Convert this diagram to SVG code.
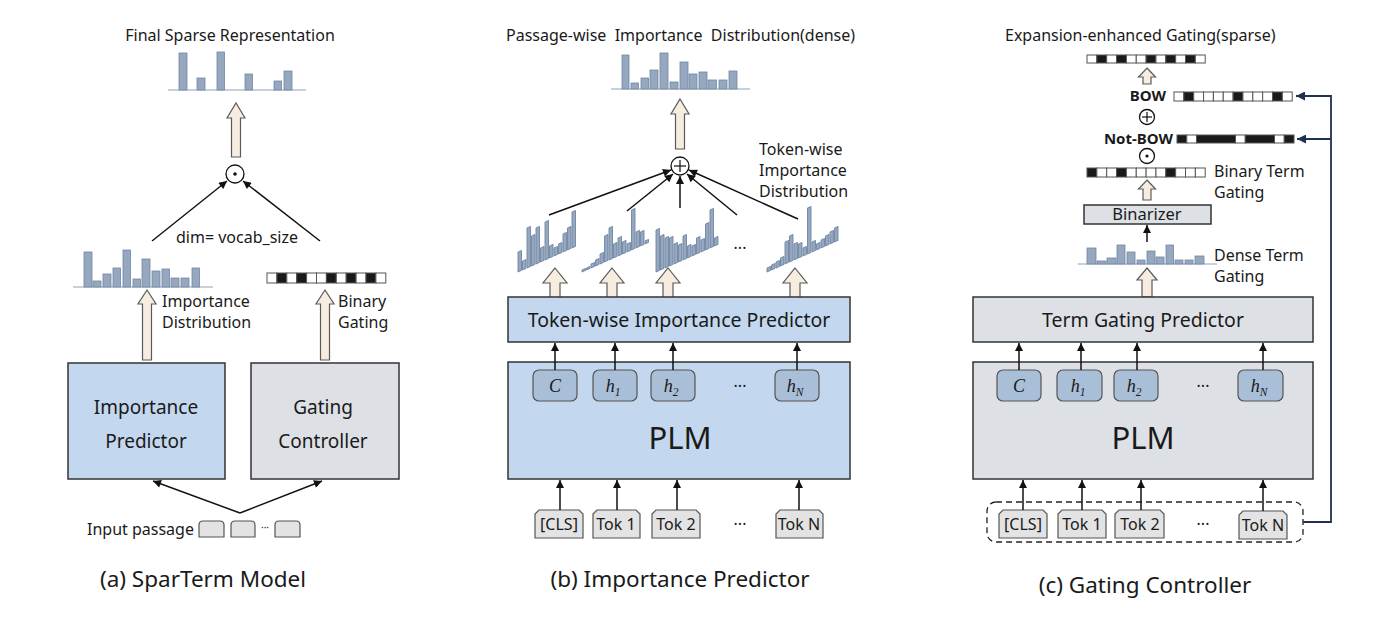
<svg xmlns="http://www.w3.org/2000/svg" width="1400" height="623" viewBox="0 0 1400 623">
<defs>
<style>
text{font-family:"Noto Sans","Open Sans","DejaVu Sans",sans-serif;fill:#1a1a1a}
.t15{font-size:16px}
.t18{font-size:19.5px}
.t19{font-size:19px}
.cap{font-size:22.5px}
.plm{font-size:31px}
.b14{font-size:15px;font-weight:bold}
.m{font-family:"Liberation Serif","DejaVu Serif",serif;font-style:italic;font-size:18px}
.sub{font-size:11.5px}
.mid{text-anchor:middle}
.end{text-anchor:end}
.bar{fill:#95a8c0;stroke:#7085a2;stroke-width:0.8}
.base{stroke:#8ea4bf;stroke-width:1.2}
.ha{fill:#f6ece0;stroke:#5a5a5a;stroke-width:1.2}
.blue{fill:#c3d7ee;stroke:#333;stroke-width:1.5}
.grey{fill:#dde1e6;stroke:#333;stroke-width:1.5}
.inner{fill:#a9bed7;stroke:#555;stroke-width:1.2}
.tok{fill:#e3e3e3;stroke:#555;stroke-width:1.2}
.cw{fill:#fff;stroke:#555;stroke-width:1}
.cb{fill:#1a1a1a;stroke:#555;stroke-width:1}
.ln{stroke:#111;stroke-width:1.5;fill:none}
.nav{stroke:#1f3050;stroke-width:1.8;fill:none}
.circ{fill:#fff;stroke:#111;stroke-width:1.3}
</style>
<marker id="ah" viewBox="0 0 10 10" refX="10" refY="5" markerWidth="10" markerHeight="8" markerUnits="userSpaceOnUse" orient="auto">
<path d="M0,0 L10,5 L0,10 z" fill="#111"/>
</marker>
<marker id="ahn" viewBox="0 0 10 10" refX="10" refY="5" markerWidth="12" markerHeight="9" markerUnits="userSpaceOnUse" orient="auto">
<path d="M0,0 L10,5 L0,10 z" fill="#1f3050"/>
</marker>
</defs>
<rect width="1400" height="623" fill="#fff"/>

<!-- ================= Panel (a) ================= -->
<g id="a-final">
<text class="t15 mid" x="230" y="41">Final Sparse Representation</text>
<line class="base" x1="168" y1="90" x2="306" y2="90"/>
<rect class="bar" x="179" y="53" width="8" height="37"/>
<rect class="bar" x="197" y="78" width="8" height="12"/>
<rect class="bar" x="217" y="52" width="7.5" height="38"/>
<rect class="bar" x="245" y="74" width="7.5" height="16"/>
<rect class="bar" x="274" y="81" width="7.5" height="9"/>
<rect class="bar" x="284" y="71" width="8" height="19"/>
<path class="ha" d="M236,103 L245,118 L240.5,118 L240.5,157 L231.5,157 L231.5,118 L227,118 Z"/>
</g>
<g id="a-odot">
<circle class="circ" cx="235" cy="174" r="9"/>
<circle cx="235" cy="174" r="1.8" fill="#111"/>
<text class="t15 mid" x="237" y="243">dim= vocab_size</text>
</g>
<g id="a-importance-dist">
<line class="base" x1="73" y1="287" x2="213" y2="287"/>
<rect class="bar" x="84" y="252" width="8" height="35"/>
<rect class="bar" x="93" y="281" width="8" height="6"/>
<rect class="bar" x="103" y="274" width="8" height="13"/>
<rect class="bar" x="113" y="268" width="7.5" height="19"/>
<rect class="bar" x="123" y="250" width="7.5" height="37"/>
<rect class="bar" x="133" y="279" width="7.5" height="8"/>
<rect class="bar" x="142" y="259" width="8" height="28"/>
<rect class="bar" x="152" y="271" width="8" height="16"/>
<rect class="bar" x="162" y="269" width="7.5" height="18"/>
<rect class="bar" x="171" y="278" width="8" height="9"/>
<rect class="bar" x="181" y="278" width="8" height="9"/>
<rect class="bar" x="192" y="268" width="7.5" height="19"/>
<path class="ha" d="M147,290 L156,304 L151.5,304 L151.5,360 L142.5,360 L142.5,304 L138,304 Z"/>
<text class="t15" x="162" y="307">Importance</text>
<text class="t15" x="162" y="328">Distribution</text>
</g>
<g id="a-binary-gating">
<rect class="cw" x="267" y="273" width="9.9" height="10"/>
<rect class="cb" x="276.9" y="273" width="9.9" height="10"/>
<rect class="cw" x="286.8" y="273" width="9.9" height="10"/>
<rect class="cb" x="296.7" y="273" width="9.9" height="10"/>
<rect class="cw" x="306.6" y="273" width="9.9" height="10"/>
<rect class="cw" x="316.5" y="273" width="9.9" height="10"/>
<rect class="cb" x="326.4" y="273" width="9.9" height="10"/>
<rect class="cw" x="336.3" y="273" width="9.9" height="10"/>
<rect class="cb" x="346.2" y="273" width="9.9" height="10"/>
<rect class="cw" x="356.1" y="273" width="9.9" height="10"/>
<rect class="cb" x="366" y="273" width="9.9" height="10"/>
<rect class="cw" x="375.9" y="273" width="9.9" height="10"/>
<path class="ha" d="M325,290 L334,304 L329.5,304 L329.5,360 L320.5,360 L320.5,304 L316,304 Z"/>
<text class="t15" x="338" y="307">Binary</text>
<text class="t15" x="338" y="328">Gating</text>
</g>
<g id="a-importance-predictor">
<rect class="blue" x="68" y="363" width="157" height="116"/>
<text class="t19 mid" x="146" y="414">Importance</text>
<text class="t19 mid" x="146" y="448">Predictor</text>
</g>
<g id="a-gating-controller">
<rect class="grey" x="251" y="363" width="148" height="116"/>
<text class="t19 mid" x="323" y="414">Gating</text>
<text class="t19 mid" x="323" y="448">Controller</text>
</g>
<g id="a-input">
<text class="t15" x="87" y="535">Input passage</text>
<path class="tok" d="M199,537 L199,525 Q199,521 203,521 L220,521 Q224,521 224,525 L224,537 Z"/>
<path class="tok" d="M231,537 L231,525 Q231,521 235,521 L251,521 Q255,521 255,525 L255,537 Z"/>
<text class="mid" x="265" y="531" style="font-size:10px">···</text>
<path class="tok" d="M275,537 L275,525 Q275,521 279,521 L296,521 Q300,521 300,525 L300,537 Z"/>
</g>
<text class="cap mid" x="203" y="587">(a) SparTerm Model</text>

<!-- ================= Panel (b) ================= -->
<g id="b-passage-dist">
<text class="t15" x="506" y="41" xml:space="preserve">Passage-wise  Importance  Distribution(dense)</text>
<line class="base" x1="611" y1="89" x2="750" y2="89"/>
<rect class="bar" x="622" y="55" width="7" height="34"/>
<rect class="bar" x="631" y="83" width="7.5" height="6"/>
<rect class="bar" x="641" y="78" width="7.5" height="11"/>
<rect class="bar" x="650" y="70" width="8" height="19"/>
<rect class="bar" x="660" y="53" width="8" height="36"/>
<rect class="bar" x="670" y="82" width="8" height="7"/>
<rect class="bar" x="680" y="62" width="8" height="27"/>
<rect class="bar" x="689" y="74" width="8" height="15"/>
<rect class="bar" x="699" y="72" width="8" height="17"/>
<rect class="bar" x="708" y="80" width="8.5" height="9"/>
<rect class="bar" x="719" y="80" width="8" height="9"/>
<rect class="bar" x="729" y="71" width="8" height="18"/>
<path class="ha" d="M680,99 L689,114 L684.5,114 L684.5,149 L675.5,149 L675.5,114 L671,114 Z"/>
</g>
<g id="b-oplus">
<circle class="circ" cx="680" cy="166" r="9"/>
<line class="ln" x1="674" y1="166" x2="686" y2="166" style="stroke-width:1.2"/>
<line class="ln" x1="680" y1="160" x2="680" y2="172" style="stroke-width:1.2"/>
<text class="t15" x="759" y="155">Token-wise</text>
<text class="t15" x="759" y="176">Importance</text>
<text class="t15" x="759" y="197">Distribution</text>
</g>
<g id="b-token-dists">
<g transform="translate(518,272) skewY(-24)">
<rect class="bar" x="0" y="-20" width="3.5" height="20"/>
<rect class="bar" x="4.5" y="-9" width="3.5" height="9"/>
<rect class="bar" x="9" y="-40" width="3.5" height="40"/>
<rect class="bar" x="13.5" y="-30" width="3.5" height="30"/>
<rect class="bar" x="18" y="-36" width="3.5" height="36"/>
<rect class="bar" x="22.5" y="-14" width="3.5" height="14"/>
<rect class="bar" x="27" y="-38" width="3.5" height="38"/>
<rect class="bar" x="31.5" y="-12" width="3.5" height="12"/>
<rect class="bar" x="36" y="-8" width="3.5" height="8"/>
<rect class="bar" x="40.5" y="-10" width="3.5" height="10"/>
<rect class="bar" x="45" y="-18" width="3.5" height="18"/>
<rect class="bar" x="49.5" y="-22" width="3.5" height="22"/>
<rect class="bar" x="54" y="-36" width="3.5" height="36"/>
</g>
<g transform="translate(582,272) skewY(-24)">
<rect class="bar" x="0" y="-2" width="3.5" height="2"/>
<rect class="bar" x="4.5" y="-2" width="3.5" height="2"/>
<rect class="bar" x="9" y="-4" width="3.5" height="4"/>
<rect class="bar" x="13.5" y="-6" width="3.5" height="6"/>
<rect class="bar" x="18" y="-10" width="3.5" height="10"/>
<rect class="bar" x="22.5" y="-26" width="3.5" height="26"/>
<rect class="bar" x="27" y="-32" width="3.5" height="32"/>
<rect class="bar" x="31.5" y="-14" width="3.5" height="14"/>
<rect class="bar" x="36" y="-18" width="3.5" height="18"/>
<rect class="bar" x="40.5" y="-12" width="3.5" height="12"/>
<rect class="bar" x="45" y="-8" width="3.5" height="8"/>
<rect class="bar" x="49.5" y="-40" width="3.5" height="40"/>
<rect class="bar" x="54" y="-16" width="3.5" height="16"/>
<rect class="bar" x="58.5" y="-14" width="3.5" height="14"/>
<rect class="bar" x="63" y="-3" width="3.5" height="3"/>
</g>
<g transform="translate(656,272) skewY(-24)">
<rect class="bar" x="0" y="-42" width="3.5" height="42"/>
<rect class="bar" x="4.5" y="-34" width="3.5" height="34"/>
<rect class="bar" x="9" y="-30" width="3.5" height="30"/>
<rect class="bar" x="13.5" y="-28" width="3.5" height="28"/>
<rect class="bar" x="18" y="-20" width="3.5" height="20"/>
<rect class="bar" x="22.5" y="-17" width="3.5" height="17"/>
<rect class="bar" x="27" y="-24" width="3.5" height="24"/>
<rect class="bar" x="31.5" y="-12" width="3.5" height="12"/>
<rect class="bar" x="36" y="-10" width="3.5" height="10"/>
<rect class="bar" x="40.5" y="-16" width="3.5" height="16"/>
<rect class="bar" x="45" y="-12" width="3.5" height="12"/>
<rect class="bar" x="49.5" y="-26" width="3.5" height="26"/>
<rect class="bar" x="54" y="-38" width="3.5" height="38"/>
<rect class="bar" x="58.5" y="-8" width="3.5" height="8"/>
</g>
<text class="t15 mid" x="740" y="254">···</text>
<g transform="translate(767,272) skewY(-24)">
<rect class="bar" x="0" y="-4" width="3.5" height="4"/>
<rect class="bar" x="4.5" y="-5" width="3.5" height="5"/>
<rect class="bar" x="9" y="-6" width="3.5" height="6"/>
<rect class="bar" x="13.5" y="-8" width="3.5" height="8"/>
<rect class="bar" x="18" y="-22" width="3.5" height="22"/>
<rect class="bar" x="22.5" y="-26" width="3.5" height="26"/>
<rect class="bar" x="27" y="-16" width="3.5" height="16"/>
<rect class="bar" x="31.5" y="-14" width="3.5" height="14"/>
<rect class="bar" x="36" y="-8" width="3.5" height="8"/>
<rect class="bar" x="40.5" y="-46" width="3.5" height="46"/>
<rect class="bar" x="45" y="-10" width="3.5" height="10"/>
<rect class="bar" x="49.5" y="-6" width="3.5" height="6"/>
<rect class="bar" x="54" y="-8" width="3.5" height="8"/>
<rect class="bar" x="58.5" y="-10" width="3.5" height="10"/>
<rect class="bar" x="63" y="-12" width="3.5" height="12"/>
<rect class="bar" x="67.5" y="-14" width="3.5" height="14"/>
</g>
<path class="ha" d="M555,268 L567,283 L560,283 L560,298 L550,298 L550,283 L543,283 Z"/>
<path class="ha" d="M612,268 L624,283 L617,283 L617,298 L607,298 L607,283 L600,283 Z"/>
<path class="ha" d="M668,268 L680,283 L673,283 L673,298 L663,298 L663,283 L656,283 Z"/>
<path class="ha" d="M795,268 L807,283 L800,283 L800,298 L790,298 L790,283 L783,283 Z"/>
</g>
<g id="b-predictor">
<rect class="blue" x="508" y="297" width="342" height="45"/>
<text class="t18 mid" x="679" y="327">Token-wise Importance Predictor</text>
</g>
<g id="b-plm">
<rect class="blue" x="508" y="362" width="342" height="117"/>
<text class="plm mid" x="680" y="449">PLM</text>
<rect class="inner" x="533" y="370" width="44" height="31" rx="6"/>
<text class="m mid" x="555" y="392">C</text>
<rect class="inner" x="593" y="370" width="44" height="31" rx="6"/>
<text class="m mid" x="613" y="392">h<tspan class="sub" dy="4">1</tspan></text>
<rect class="inner" x="651" y="370" width="44" height="31" rx="6"/>
<text class="m mid" x="671" y="392">h<tspan class="sub" dy="4">2</tspan></text>
<text class="t15 mid" x="740" y="392">···</text>
<rect class="inner" x="775" y="370" width="44" height="31" rx="6"/>
<text class="m mid" x="795" y="392">h<tspan class="sub" dy="4">N</tspan></text>
</g>
<g id="b-tokens">
<path class="tok" d="M535,538 L535,514 L539,510 L579,510 L583,514 L583,538 Z"/>
<text class="t15 mid" x="559" y="530">[CLS]</text>
<path class="tok" d="M593,538 L593,514 L597,510 L636,510 L640,514 L640,538 Z"/>
<text class="t15 mid" x="616" y="530">Tok 1</text>
<path class="tok" d="M652,538 L652,514 L656,510 L696,510 L700,514 L700,538 Z"/>
<text class="t15 mid" x="676" y="530">Tok 2</text>
<text class="t15 mid" x="740" y="530">···</text>
<path class="tok" d="M776,538 L776,514 L780,510 L819,510 L823,514 L823,538 Z"/>
<text class="t15 mid" x="799" y="530">Tok N</text>
</g>
<text class="cap mid" x="680" y="587">(b) Importance Predictor</text>

<!-- ================= Panel (c) ================= -->
<g id="c-final">
<text class="t15" x="1005" y="41">Expansion-enhanced Gating(sparse)</text>
<rect class="cw" x="1087" y="55" width="9.85" height="8"/>
<rect class="cb" x="1096.85" y="55" width="9.85" height="8"/>
<rect class="cw" x="1106.7" y="55" width="9.85" height="8"/>
<rect class="cb" x="1116.55" y="55" width="9.85" height="8"/>
<rect class="cw" x="1126.4" y="55" width="9.85" height="8"/>
<rect class="cw" x="1136.25" y="55" width="9.85" height="8"/>
<rect class="cb" x="1146.1" y="55" width="9.85" height="8"/>
<rect class="cw" x="1155.95" y="55" width="9.85" height="8"/>
<rect class="cb" x="1165.8" y="55" width="9.85" height="8"/>
<rect class="cw" x="1175.65" y="55" width="9.85" height="8"/>
<rect class="cb" x="1185.5" y="55" width="9.85" height="8"/>
<rect class="cw" x="1195.35" y="55" width="9.85" height="8"/>
<path class="ha" d="M1147,68 L1155.5,77 L1151,77 L1151,84 L1143,84 L1143,77 L1138.5,77 Z"/>
</g>
<g id="c-bow">
<text class="b14 end" x="1166" y="101">BOW</text>
<rect class="cw" x="1174" y="92" width="9.85" height="9"/>
<rect class="cb" x="1183.85" y="92" width="9.85" height="9"/>
<rect class="cw" x="1193.7" y="92" width="9.85" height="9"/>
<rect class="cw" x="1203.55" y="92" width="9.85" height="9"/>
<rect class="cw" x="1213.4" y="92" width="9.85" height="9"/>
<rect class="cw" x="1223.25" y="92" width="9.85" height="9"/>
<rect class="cb" x="1233.1" y="92" width="9.85" height="9"/>
<rect class="cw" x="1242.95" y="92" width="9.85" height="9"/>
<rect class="cw" x="1252.8" y="92" width="9.85" height="9"/>
<rect class="cw" x="1262.65" y="92" width="9.85" height="9"/>
<rect class="cb" x="1272.5" y="92" width="9.85" height="9"/>
<rect class="cw" x="1282.35" y="92" width="9.85" height="9"/>
</g>
<g id="c-oplus">
<circle class="circ" cx="1147" cy="117" r="7.5"/>
<line class="ln" x1="1142" y1="117" x2="1152" y2="117" style="stroke-width:1.2"/>
<line class="ln" x1="1147" y1="112" x2="1147" y2="122" style="stroke-width:1.2"/>
</g>
<g id="c-notbow">
<text class="b14 end" x="1173" y="144">Not-BOW</text>
<rect class="cb" x="1177" y="135" width="9.75" height="8"/>
<rect class="cw" x="1186.75" y="135" width="9.75" height="8"/>
<rect class="cb" x="1196.5" y="135" width="39" height="8"/>
<rect class="cw" x="1235.5" y="135" width="9.75" height="8"/>
<rect class="cb" x="1245.25" y="135" width="29.25" height="8"/>
<rect class="cw" x="1274.5" y="135" width="9.75" height="8"/>
<rect class="cb" x="1284.25" y="135" width="9.75" height="8"/>
</g>
<g id="c-odot">
<circle class="circ" cx="1147" cy="156" r="7.5"/>
<circle cx="1147" cy="156" r="1.6" fill="#111"/>
</g>
<g id="c-binary-term">
<rect class="cb" x="1087" y="168" width="9.85" height="9"/>
<rect class="cw" x="1096.85" y="168" width="9.85" height="9"/>
<rect class="cw" x="1106.7" y="168" width="9.85" height="9"/>
<rect class="cb" x="1116.55" y="168" width="9.85" height="9"/>
<rect class="cw" x="1126.4" y="168" width="9.85" height="9"/>
<rect class="cw" x="1136.25" y="168" width="9.85" height="9"/>
<rect class="cw" x="1146.1" y="168" width="9.85" height="9"/>
<rect class="cw" x="1155.95" y="168" width="9.85" height="9"/>
<rect class="cb" x="1165.8" y="168" width="9.85" height="9"/>
<rect class="cw" x="1175.65" y="168" width="9.85" height="9"/>
<rect class="cw" x="1185.5" y="168" width="9.85" height="9"/>
<rect class="cw" x="1195.35" y="168" width="9.85" height="9"/>
<text class="t15" x="1214" y="177">Binary Term</text>
<text class="t15" x="1214" y="198">Gating</text>
<path class="ha" d="M1147,180 L1155.5,189 L1151,189 L1151,200 L1143,200 L1143,189 L1138.5,189 Z"/>
</g>
<g id="c-binarizer">
<rect class="grey" x="1084" y="205" width="127" height="19"/>
<text class="mid" x="1147" y="220" style="font-size:16.5px">Binarizer</text>
</g>
<g id="c-dense-term">
<line class="base" x1="1078" y1="264" x2="1217" y2="264"/>
<rect class="bar" x="1087" y="248" width="9" height="16"/>
<rect class="bar" x="1097" y="261" width="9" height="3"/>
<rect class="bar" x="1107" y="258" width="9" height="6"/>
<rect class="bar" x="1117" y="245" width="8" height="19"/>
<rect class="bar" x="1127" y="252" width="8" height="12"/>
<rect class="bar" x="1137" y="260" width="8" height="4"/>
<rect class="bar" x="1147" y="251" width="8" height="13"/>
<rect class="bar" x="1156" y="257" width="8" height="7"/>
<rect class="bar" x="1166" y="245" width="7.5" height="19"/>
<rect class="bar" x="1175" y="260" width="8" height="4"/>
<rect class="bar" x="1185" y="260" width="8" height="4"/>
<rect class="bar" x="1195" y="256" width="9" height="8"/>
<text class="t15" x="1214" y="261">Dense Term</text>
<text class="t15" x="1214" y="282">Gating</text>
<path class="ha" d="M1147,268 L1157,280 L1152,280 L1152,297 L1142,297 L1142,280 L1137,280 Z"/>
</g>
<g id="c-predictor">
<rect class="grey" x="973" y="297" width="340" height="45"/>
<text class="t18 mid" x="1143" y="327">Term Gating Predictor</text>
</g>
<g id="c-plm">
<rect class="grey" x="973" y="362" width="340" height="117"/>
<text class="plm mid" x="1143" y="449">PLM</text>
<rect class="inner" x="997" y="370" width="44" height="31" rx="6"/>
<text class="m mid" x="1019" y="392">C</text>
<rect class="inner" x="1057" y="370" width="45" height="31" rx="6"/>
<text class="m mid" x="1078" y="392">h<tspan class="sub" dy="4">1</tspan></text>
<rect class="inner" x="1114" y="370" width="44" height="31" rx="6"/>
<text class="m mid" x="1134" y="392">h<tspan class="sub" dy="4">2</tspan></text>
<text class="t15 mid" x="1203" y="392">···</text>
<rect class="inner" x="1238" y="370" width="45" height="31" rx="6"/>
<text class="m mid" x="1259" y="392">h<tspan class="sub" dy="4">N</tspan></text>
</g>
<g id="c-tokens">
<rect x="987" y="502" width="316" height="40" rx="9" fill="none" stroke="#222" stroke-width="1.3" stroke-dasharray="6 4"/>
<path class="tok" d="M999,538 L999,514 L1003,510 L1043,510 L1047,514 L1047,538 Z"/>
<text class="t15 mid" x="1023" y="530">[CLS]</text>
<path class="tok" d="M1058,538 L1058,514 L1062,510 L1102,510 L1106,514 L1106,538 Z"/>
<text class="t15 mid" x="1082" y="530">Tok 1</text>
<path class="tok" d="M1115,538 L1115,514 L1119,510 L1160,510 L1164,514 L1164,538 Z"/>
<text class="t15 mid" x="1140" y="530">Tok 2</text>
<text class="t15 mid" x="1203" y="530">···</text>
<path class="tok" d="M1239,539 L1239,515 L1243,511 L1283,511 L1287,515 L1287,539 Z"/>
<text class="t15 mid" x="1263" y="531">Tok N</text>
</g>
<text class="cap mid" x="1145" y="593">(c) Gating Controller</text>

<!-- ================= Connectors ================= -->
<g id="connectors">
<line class="ln" x1="152" y1="241" x2="227" y2="181" marker-end="url(#ah)"/>
<line class="ln" x1="320" y1="241" x2="243" y2="181" marker-end="url(#ah)"/>
<line class="ln" x1="240" y1="513" x2="153" y2="481" marker-end="url(#ah)"/>
<line class="ln" x1="240" y1="513" x2="322" y2="481" marker-end="url(#ah)"/>

<line class="ln" x1="549" y1="215" x2="671" y2="170" marker-end="url(#ah)"/>
<line class="ln" x1="627" y1="211" x2="673" y2="174" marker-end="url(#ah)"/>
<line class="ln" x1="680" y1="208" x2="680" y2="176" marker-end="url(#ah)"/>
<line class="ln" x1="737" y1="215" x2="687" y2="174" marker-end="url(#ah)"/>
<line class="ln" x1="798" y1="219" x2="689" y2="170" marker-end="url(#ah)"/>
<line class="ln" x1="555" y1="370" x2="555" y2="343" marker-end="url(#ah)"/>
<line class="ln" x1="615" y1="370" x2="615" y2="343" marker-end="url(#ah)"/>
<line class="ln" x1="673" y1="370" x2="673" y2="343" marker-end="url(#ah)"/>
<line class="ln" x1="797" y1="370" x2="797" y2="343" marker-end="url(#ah)"/>
<line class="ln" x1="560" y1="510" x2="560" y2="480" marker-end="url(#ah)"/>
<line class="ln" x1="617" y1="510" x2="617" y2="480" marker-end="url(#ah)"/>
<line class="ln" x1="677" y1="510" x2="677" y2="480" marker-end="url(#ah)"/>
<line class="ln" x1="799" y1="510" x2="799" y2="480" marker-end="url(#ah)"/>

<line class="ln" x1="1147" y1="242" x2="1147" y2="225" marker-end="url(#ah)"/>
<line class="ln" x1="1019" y1="370" x2="1019" y2="343" marker-end="url(#ah)"/>
<line class="ln" x1="1081" y1="370" x2="1081" y2="343" marker-end="url(#ah)"/>
<line class="ln" x1="1137" y1="370" x2="1137" y2="343" marker-end="url(#ah)"/>
<line class="ln" x1="1263" y1="370" x2="1263" y2="343" marker-end="url(#ah)"/>
<line class="ln" x1="1023" y1="510" x2="1023" y2="480" marker-end="url(#ah)"/>
<line class="ln" x1="1082" y1="510" x2="1082" y2="480" marker-end="url(#ah)"/>
<line class="ln" x1="1141" y1="510" x2="1141" y2="480" marker-end="url(#ah)"/>
<line class="ln" x1="1263" y1="511" x2="1263" y2="480" marker-end="url(#ah)"/>

<polyline class="nav" points="1303,522 1331,522 1331,96 1296,96" marker-end="url(#ahn)"/>
<line class="nav" x1="1331" y1="139" x2="1297" y2="139" marker-end="url(#ahn)"/>
</g>
</svg>
